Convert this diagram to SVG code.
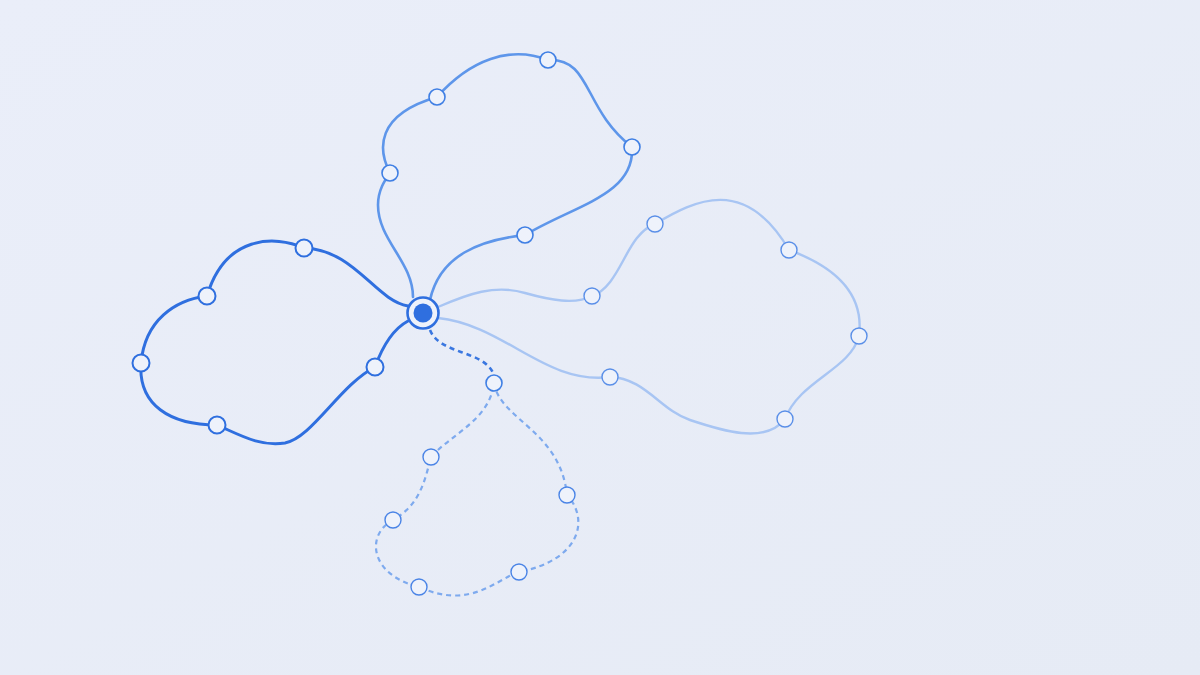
<svg xmlns="http://www.w3.org/2000/svg" width="1200" height="675" viewBox="0 0 1200 675">
<defs>
<linearGradient id="bg" x1="0" y1="0" x2="1" y2="1">
<stop offset="0" stop-color="#eaeef9"/>
<stop offset="1" stop-color="#e6ebf5"/>
</linearGradient>
<style>
.l{fill:none;stroke-linecap:round;stroke-linejoin:round}
.l1{stroke:#2f6fdf;stroke-width:3}
.l2{stroke:#5e96ea;stroke-width:2.6}
.l3{stroke:#a8c5f3;stroke-width:2.4}
.l4{stroke:#7eaaee;stroke-width:2.2;stroke-dasharray:5 4;stroke-linecap:butt}
.l0{stroke:#3a77e0;stroke-width:2.6;stroke-dasharray:5 4;stroke-linecap:butt}
.n{fill:#eef2fb;stroke-width:1.6}
.n1{stroke:#2f6fdf;stroke-width:2}
.n2{stroke:#3f7fe4}
.n3{stroke:#5a8fe8;stroke-width:1.4}
.n4{stroke:#4a84e6;stroke-width:1.4}
</style>
</defs>
<rect width="1200" height="675" fill="url(#bg)"/>
<g id="connectors">
<path class="l l1" d="M408,306 C375,300 355,250 304,248 C275,235 225,235 207,296 C175,300 145,320 141,363 C138,405 170,425 217,425 C240,435 260,447 285,443 C312,438 340,385 375,367 C383,345 395,328 408,321"/>
<path class="l l2" d="M413,297 C413,262 378,240 378,205 C378,190 385,180 390,173 C378,150 375,115 437,97 C470,60 510,45 548,60 C592,58 582,108 632,147 C635,195 575,205 525,235 C480,240 440,255 430,300"/>
<path class="l l3" d="M438,307 C468,294 495,284 525,293 C550,300 575,305 592,296 C622,285 625,235 655,224 C695,200 745,175 789,250 C830,265 865,290 859,336 C850,370 800,380 785,419 C765,445 720,430 690,420 C660,410 645,378 610,377 C545,385 505,325 438,318"/>
<path class="l l0" d="M430,330 C440,355 485,350 494,375"/>
<path class="l l4" d="M494,383 C500,420 560,430 567,495 C590,520 580,560 519,572 C495,580 470,610 419,587 C370,575 365,535 393,520 C420,505 425,480 431,457 C450,435 490,420 494,383"/>
</g>
<g id="loop1-nodes">
<circle id="n1a" class="n n1" cx="304" cy="248" r="8.5"/>
<circle id="n1b" class="n n1" cx="207" cy="296" r="8.5"/>
<circle id="n1c" class="n n1" cx="141" cy="363" r="8.5"/>
<circle id="n1d" class="n n1" cx="217" cy="425" r="8.5"/>
<circle id="n1e" class="n n1" cx="375" cy="367" r="8.5"/>
</g>
<g id="loop2-nodes">
<circle id="n2a" class="n n2" cx="390" cy="173" r="8"/>
<circle id="n2b" class="n n2" cx="437" cy="97" r="8"/>
<circle id="n2c" class="n n2" cx="548" cy="60" r="8"/>
<circle id="n2d" class="n n2" cx="632" cy="147" r="8"/>
<circle id="n2e" class="n n2" cx="525" cy="235" r="8"/>
</g>
<g id="loop3-nodes">
<circle id="n3a" class="n n3" cx="592" cy="296" r="8"/>
<circle id="n3b" class="n n3" cx="655" cy="224" r="8"/>
<circle id="n3c" class="n n3" cx="789" cy="250" r="8"/>
<circle id="n3d" class="n n3" cx="859" cy="336" r="8"/>
<circle id="n3e" class="n n3" cx="785" cy="419" r="8"/>
<circle id="n3f" class="n n3" cx="610" cy="377" r="8"/>
</g>
<g id="loop4-nodes">
<circle id="n4a" class="n n2" cx="494" cy="383" r="8"/>
<circle id="n4b" class="n n4" cx="567" cy="495" r="8"/>
<circle id="n4c" class="n n4" cx="519" cy="572" r="8"/>
<circle id="n4d" class="n n4" cx="419" cy="587" r="8"/>
<circle id="n4e" class="n n4" cx="393" cy="520" r="8"/>
<circle id="n4f" class="n n4" cx="431" cy="457" r="8"/>
</g>
<g id="hub">
<circle cx="423" cy="313" r="15.5" fill="#eef2fb" stroke="#2f6fdf" stroke-width="2.6"/>
<circle cx="423" cy="313" r="9.5" fill="#2f6fdf"/>
</g>
</svg>
